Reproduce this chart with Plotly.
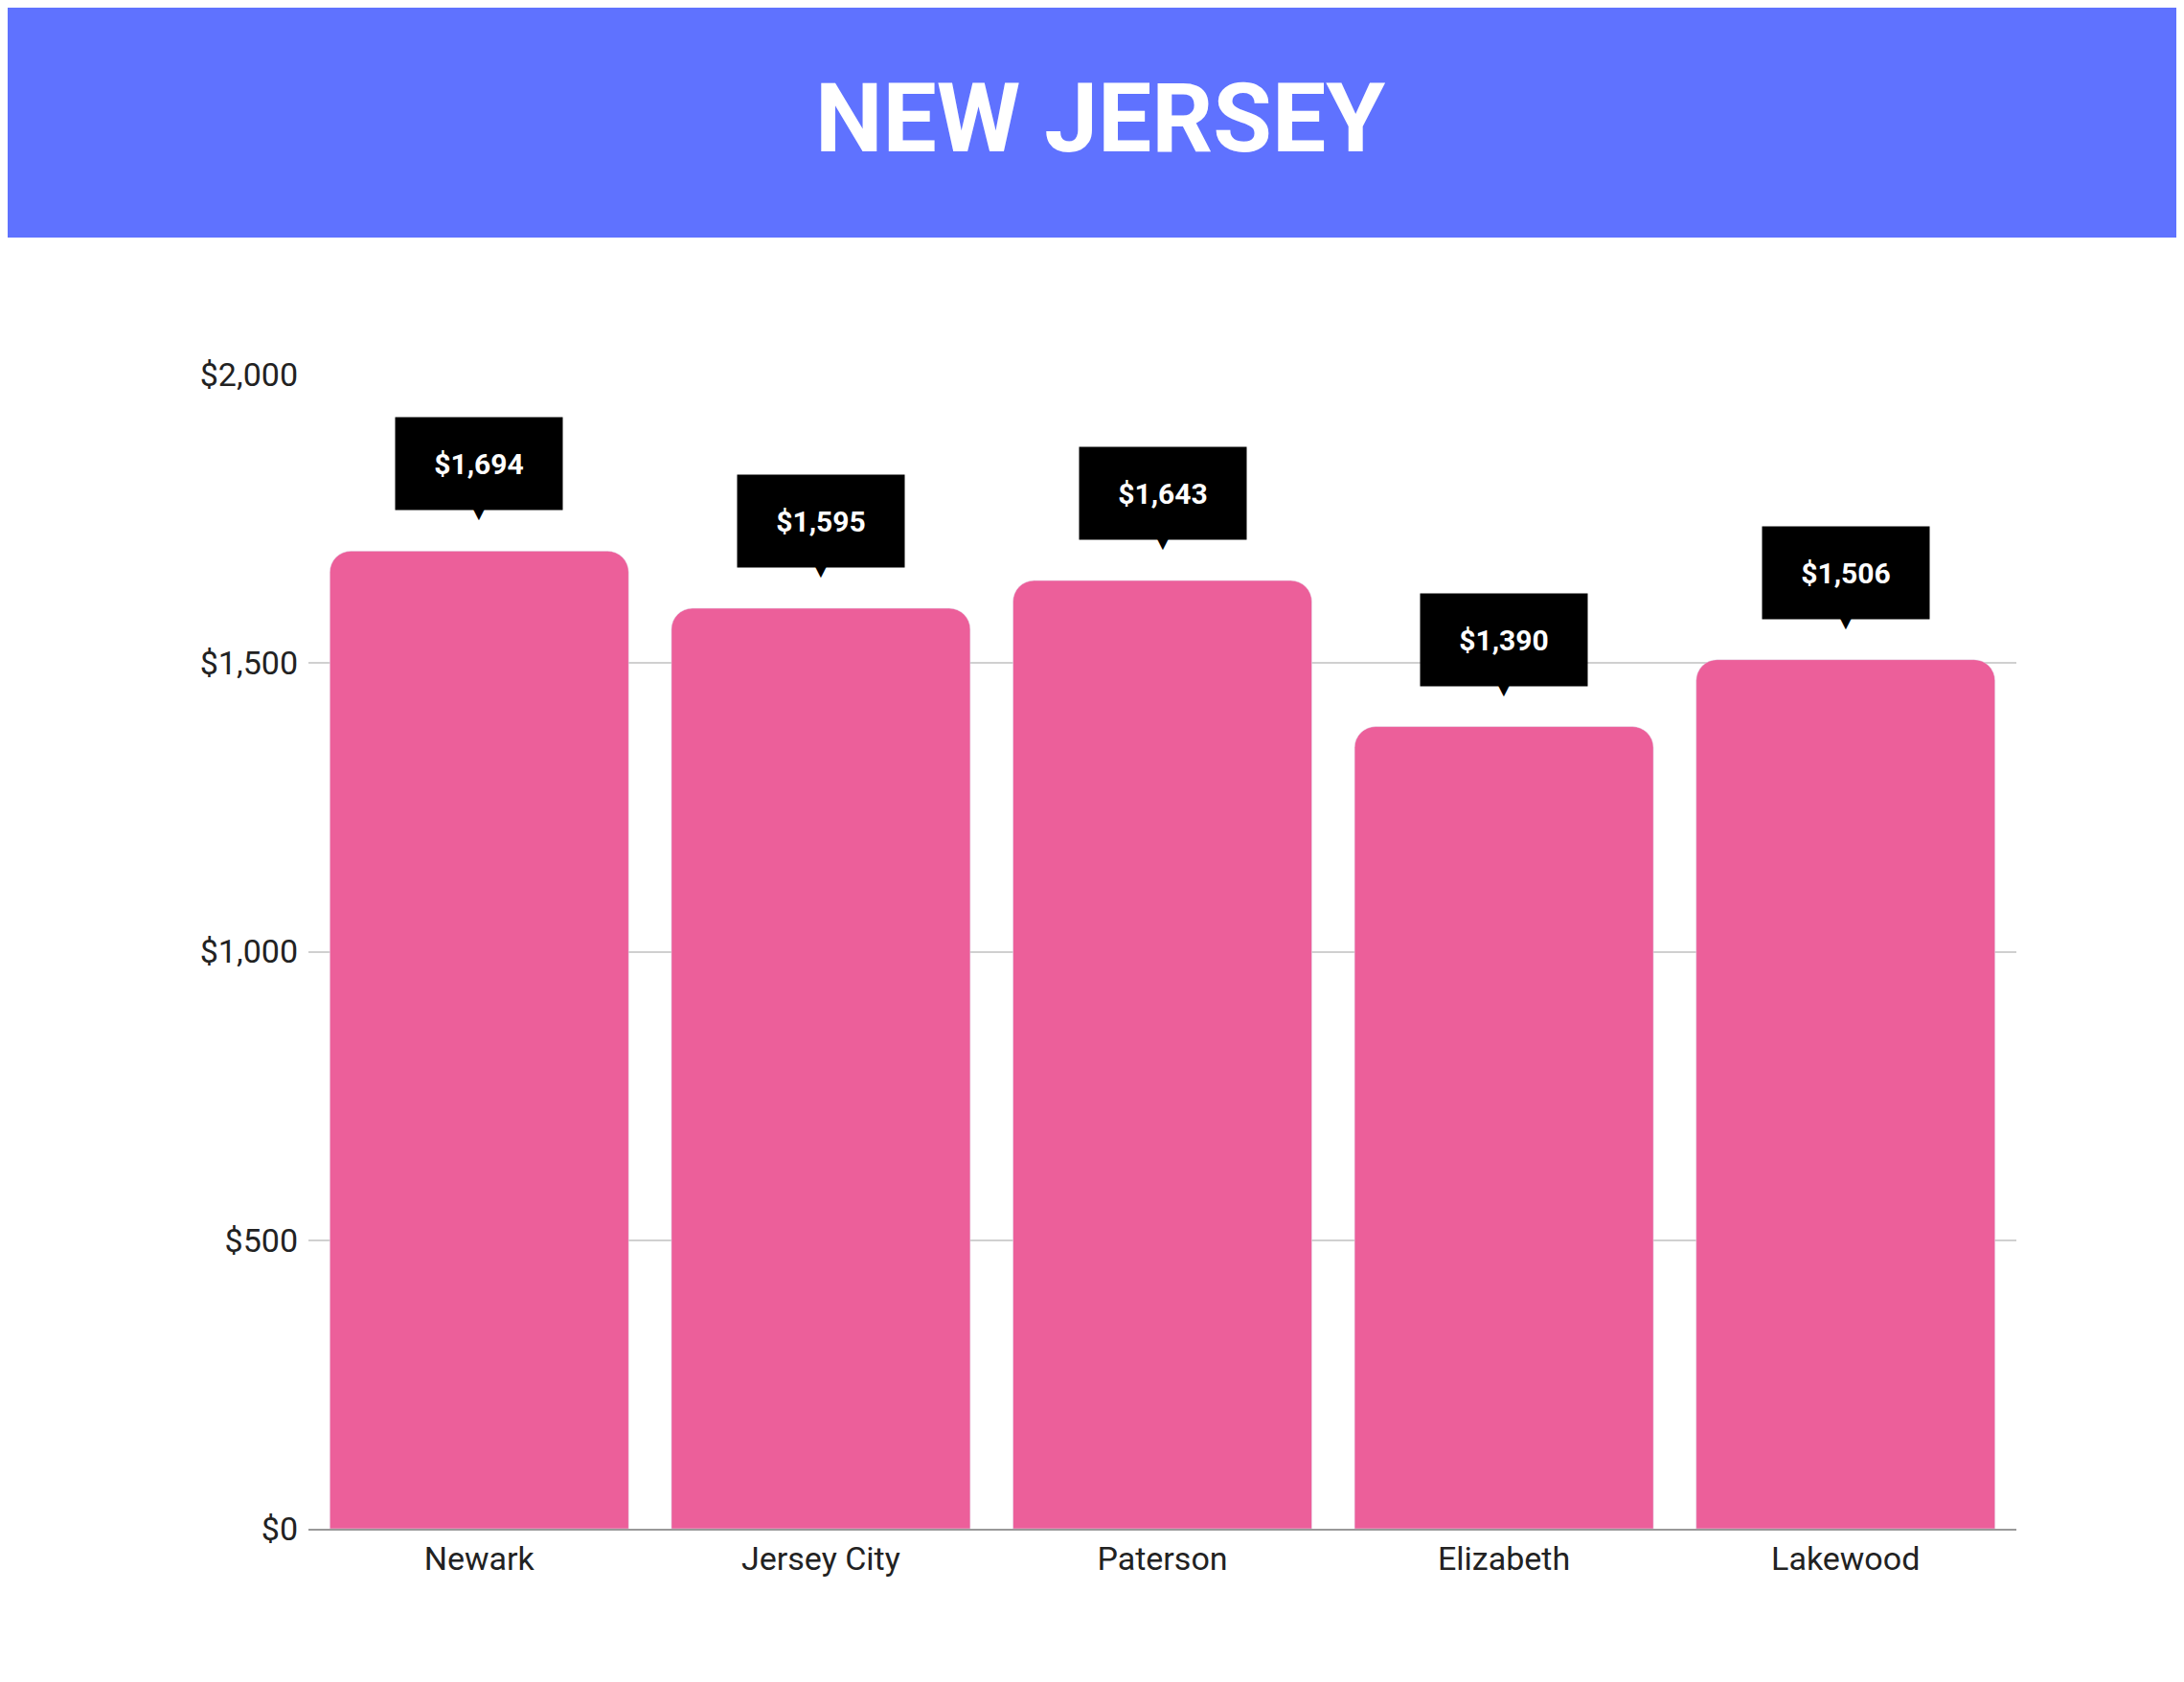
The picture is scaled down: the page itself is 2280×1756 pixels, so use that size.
import plotly.graph_objects as go

cities = ["Newark", "Jersey City", "Paterson", "Elizabeth", "Lakewood"]
values = [1694, 1595, 1643, 1390, 1506]
labels = ["$1,694", "$1,595", "$1,643", "$1,390", "$1,506"]
tick_vals = [0, 500, 1000, 1500, 2000]
tick_text = ["$0", "$500", "$1,000", "$1,500", "$2,000"]

W, H = 2280, 1756
ml, mr, mt, mb = 314, 183, 383, 168
pw, ph = W - ml - mr, H - mt - mb

fig = go.Figure(go.Bar(x=cities, y=values, marker=dict(color="#EC5F9A", cornerradius=22),
                       hoverinfo="skip"))

ann = []
for c, v, t in zip(cities, values, labels):
    ann.append(dict(x=c, y=v, text=f"<b>{t}</b>", showarrow=False, yanchor="bottom",
                    yshift=42, width=172, height=94, bgcolor="black",
                    font=dict(color="white", size=30, family="Roboto")))
    ann.append(dict(x=c, y=v, text="▼", showarrow=False, yanchor="bottom", yshift=24,
                    font=dict(color="black", size=26)))
ann.append(dict(xref="paper", yref="paper", x=0.5 - (ml - mr) / 2 / pw, y=1 + (mt - 116) / ph,
                text="<b>NEW JERSEY</b>", showarrow=False, yanchor="middle",
                font=dict(color="white", size=100, family="Roboto")))

fig.update_layout(
    width=W, height=H, margin=dict(l=ml, r=mr, t=mt, b=mb),
    paper_bgcolor="white", plot_bgcolor="white", bargap=0.125, showlegend=False,
    annotations=ann,
    shapes=[dict(type="rect", xref="paper", yref="paper", x0=-ml / pw, x1=1 + mr / pw,
                 y0=1 + (mt - 240) / ph, y1=1 + mt / ph, fillcolor="#5F72FF", line_width=0, layer="below")],
    font=dict(family="Roboto", color="#222222", size=32),
    xaxis=dict(showline=True, linecolor="#999999", linewidth=2, ticks="", tickfont=dict(size=34)),
    yaxis=dict(range=[0, 2000], tickvals=tick_vals, ticktext=tick_text, gridcolor="#D0D0D0",
               gridwidth=1.5, zeroline=False, tickfont=dict(size=34), ticklabelstandoff=10),
)
fig.write_html("out.html")
